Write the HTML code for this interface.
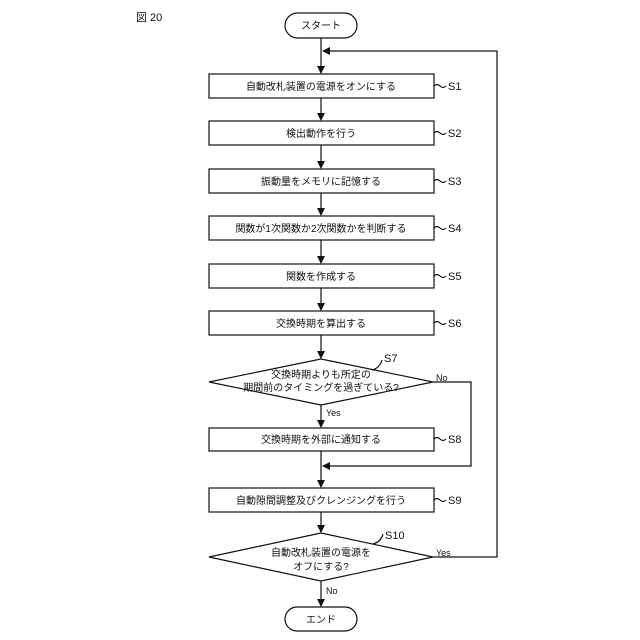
<!DOCTYPE html><html><head><style>body{margin:0;background:#fff}svg{display:block}text{font-family:"Liberation Sans","Noto Sans CJK JP",sans-serif;fill:#111}</style></head><body>
<svg width="640" height="640" viewBox="0 0 640 640" xmlns="http://www.w3.org/2000/svg">
<defs><marker id="a" markerWidth="8" markerHeight="8" refX="7" refY="4" orient="auto" markerUnits="userSpaceOnUse"><path d="M0,0 L8,4 L0,8 z" fill="#111"/></marker></defs>
<g stroke="#111" stroke-width="1.2" fill="none">
<rect x="285" y="13" width="72" height="25" rx="12.5"/>
<rect x="285" y="607" width="72" height="24" rx="12"/>
<rect x="209" y="74" width="225" height="24"/>
<rect x="209" y="121" width="225" height="24"/>
<rect x="209" y="169" width="225" height="24"/>
<rect x="209" y="216" width="225" height="24"/>
<rect x="209" y="264" width="225" height="24"/>
<rect x="209" y="311" width="225" height="24"/>
<rect x="209" y="428" width="225" height="23"/>
<rect x="209" y="488" width="225" height="24"/>
<path d="M321,359 L433,382 L321,405 L209,382 Z"/>
<path d="M321,533 L433,557 L321,581 L209,557 Z"/>
<path d="M321,38 V73" marker-end="url(#a)"/>
<path d="M321,98 V120" marker-end="url(#a)"/>
<path d="M321,145 V168" marker-end="url(#a)"/>
<path d="M321,193 V215" marker-end="url(#a)"/>
<path d="M321,240 V263" marker-end="url(#a)"/>
<path d="M321,288 V310" marker-end="url(#a)"/>
<path d="M321,335 V358" marker-end="url(#a)"/>
<path d="M321,405 V427" marker-end="url(#a)"/>
<path d="M321,451 V487" marker-end="url(#a)"/>
<path d="M321,512 V532" marker-end="url(#a)"/>
<path d="M321,581 V606" marker-end="url(#a)"/>
<path d="M433,382 H471 V466 H323" marker-end="url(#a)"/>
<path d="M433,557 H497 V51 H323" marker-end="url(#a)"/>
<path d="M434,86 q3,-3 6,0 t6,0"/><path d="M434,133 q3,-3 6,0 t6,0"/><path d="M434,181 q3,-3 6,0 t6,0"/><path d="M434,228 q3,-3 6,0 t6,0"/><path d="M434,276 q3,-3 6,0 t6,0"/><path d="M434,323 q3,-3 6,0 t6,0"/><path d="M434,439 q3,-3 6,0 t6,0"/><path d="M434,500 q3,-3 6,0 t6,0"/>
<path d="M372,370 q8,-2 10,-10"/><path d="M373,544 q8,-2 10,-10"/>
</g>
<g font-size="10" text-anchor="middle">
<text x="321" y="29">スタート</text>
<text x="321" y="623">エンド</text>
<text x="321" y="90">自動改札装置の電源をオンにする</text>
<text x="321" y="137">検出動作を行う</text>
<text x="321" y="185">振動量をメモリに記憶する</text>
<text x="321" y="232">関数が1次関数か2次関数かを判断する</text>
<text x="321" y="280">関数を作成する</text>
<text x="321" y="327">交換時期を算出する</text>
<text x="321" y="378">交換時期よりも所定の</text>
<text x="321" y="391">期間前のタイミングを過ぎている?</text>
<text x="321" y="443">交換時期を外部に通知する</text>
<text x="321" y="504">自動隙間調整及びクレンジングを行う</text>
<text x="321" y="556">自動改札装置の電源を</text>
<text x="321" y="570">オフにする?</text>
</g>
<g font-size="11">
<text x="448" y="90">S1</text><text x="448" y="137">S2</text><text x="448" y="185">S3</text><text x="448" y="232">S4</text><text x="448" y="280">S5</text><text x="448" y="327">S6</text><text x="448" y="443">S8</text><text x="448" y="504">S9</text>
<text x="384" y="362">S7</text><text x="385" y="539">S10</text>
<text x="136" y="21">図 20</text>
</g>
<g font-size="9"><text x="436" y="381">No</text><text x="326" y="416">Yes</text><text x="436" y="556">Yes</text><text x="326" y="594">No</text></g>
</svg></body></html>
